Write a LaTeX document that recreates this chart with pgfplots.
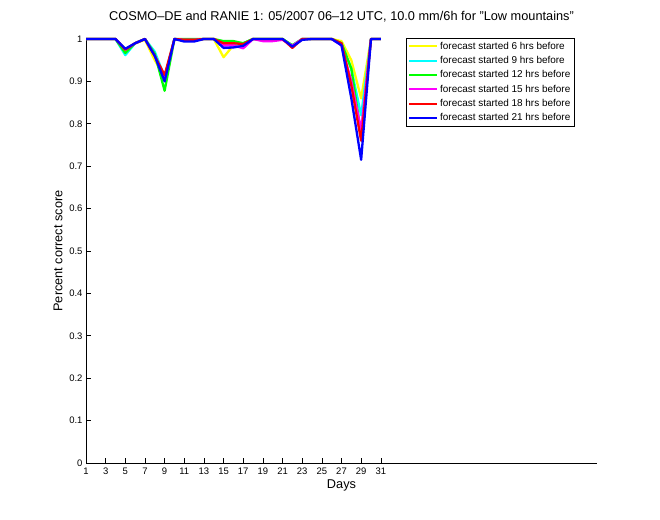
\documentclass[border=0pt]{standalone}
\usepackage{fontspec}
\setmainfont{Liberation Sans}
\usepackage{pgfplots}
\pgfplotsset{compat=1.18}
\definecolor{myyellow}{rgb}{1,1,0}
\definecolor{mycyan}{rgb}{0,1,1}
\definecolor{mygreen}{rgb}{0,1,0}
\definecolor{mymagenta}{rgb}{1,0,1}
\definecolor{myred}{rgb}{1,0,0}
\definecolor{myblue}{rgb}{0,0,1}
\begin{document}
\begin{tikzpicture}
\useasboundingbox (0,0) rectangle (660bp,520bp);
\begin{axis}[
  at={(86bp,57bp)}, anchor=south west,
  scale only axis, width=511bp, height=424bp,
  xmin=1, xmax=53, ymin=0, ymax=1,
  axis x line*=bottom, axis y line*=left,
  axis line style={-, line width=0.6bp},
  tick align=inside, major tick length=5bp,
  tick style={line width=0.6bp, black},
  xtick={1,3,...,31},
  ytick={0,0.1,0.2,0.3,0.4,0.5,0.6,0.7,0.8,0.9,1},
  yticklabels={0,0.1,0.2,0.3,0.4,0.5,0.6,0.7,0.8,0.9,1},
  /pgf/number format/assume math mode=true,
  tick label style={font=\fontsize{9.5}{11}\selectfont},
  xticklabel style={yshift=-1.5bp},
  every axis title shift=0pt,
  title={COSMO--DE and RANIE 1: 05/2007 06--12 UTC, 10.0 mm/6h for "Low mountains"},
  title style={at={(0.5,1)}, anchor=base, yshift=18bp, font=\fontsize{12.8}{15}\selectfont},
  xlabel={Days},
  xlabel style={at={(0.5,0)}, anchor=base, yshift=-26bp, font=\fontsize{12.8}{15}\selectfont},
  ylabel={Percent correct score},
  ylabel style={at={(0,0.5)}, anchor=center, yshift=28bp, font=\fontsize{12.8}{15}\selectfont},
  legend style={at={(0.626,1.003)}, anchor=north west, draw=black, line width=0.6bp, fill=white,
    font=\fontsize{10}{11}\selectfont, row sep=1.6bp, inner sep=2bp},
  legend cell align=left,
  legend image code/.code={\draw[#1, line width=2bp] (0bp,0bp) -- (28bp,0bp);},
  every axis plot/.append style={line width=2.3bp, mark=none, line join=round},
  clip=false,
]
\addplot[myyellow] coordinates {(1,1)(2,1)(3,1)(4,1)(5,0.975)(6,0.99)(7,0.998)(8,0.95)(9,0.91)(10,1)(11,0.998)(12,0.998)(13,1)(14,1)(15,0.957)(16,0.985)(17,0.99)(18,1)(19,1)(20,1)(21,1)(22,0.985)(23,1)(24,1)(25,1)(26,1)(27,0.995)(28,0.95)(29,0.86)(30,1)(31,1)};
\addlegendentry{forecast started 6 hrs before}
\addplot[mycyan] coordinates {(1,1)(2,1)(3,1)(4,1)(5,0.962)(6,0.99)(7,1)(8,0.97)(9,0.91)(10,1)(11,0.998)(12,0.998)(13,1)(14,1)(15,0.985)(16,0.985)(17,0.99)(18,1)(19,1)(20,1)(21,1)(22,0.985)(23,1)(24,1)(25,1)(26,1)(27,0.99)(28,0.93)(29,0.82)(30,1)(31,1)};
\addlegendentry{forecast started 9 hrs before}
\addplot[mygreen] coordinates {(1,1)(2,1)(3,1)(4,1)(5,0.967)(6,0.99)(7,1)(8,0.965)(9,0.878)(10,1)(11,1)(12,1)(13,1)(14,1)(15,0.995)(16,0.995)(17,0.99)(18,1)(19,1)(20,1)(21,1)(22,0.985)(23,1)(24,1)(25,1)(26,1)(27,0.99)(28,0.93)(29,0.775)(30,1)(31,1)};
\addlegendentry{forecast started 12 hrs before}
\addplot[mymagenta] coordinates {(1,1)(2,1)(3,1)(4,1)(5,0.975)(6,0.99)(7,1)(8,0.96)(9,0.905)(10,1)(11,0.998)(12,0.998)(13,1)(14,1)(15,0.985)(16,0.985)(17,0.978)(18,1)(19,0.995)(20,0.995)(21,0.998)(22,0.984)(23,1)(24,1)(25,1)(26,1)(27,0.985)(28,0.9)(29,0.785)(30,1)(31,1)};
\addlegendentry{forecast started 15 hrs before}
\addplot[myred] coordinates {(1,1)(2,1)(3,1)(4,1)(5,0.975)(6,0.99)(7,1)(8,0.96)(9,0.915)(10,1)(11,0.998)(12,0.998)(13,1)(14,1)(15,0.99)(16,0.99)(17,0.988)(18,1)(19,1)(20,1)(21,1)(22,0.979)(23,1)(24,1)(25,1)(26,1)(27,0.99)(28,0.89)(29,0.76)(30,1)(31,1)};
\addlegendentry{forecast started 18 hrs before}
\addplot[myblue] coordinates {(1,1)(2,1)(3,1)(4,1)(5,0.977)(6,0.99)(7,1)(8,0.96)(9,0.9)(10,1)(11,0.994)(12,0.994)(13,1)(14,1)(15,0.979)(16,0.98)(17,0.984)(18,1)(19,1)(20,1)(21,1)(22,0.982)(23,0.998)(24,1)(25,1)(26,1)(27,0.985)(28,0.86)(29,0.715)(30,1)(31,1)};
\addlegendentry{forecast started 21 hrs before}
\end{axis}
\end{tikzpicture}
\end{document}
